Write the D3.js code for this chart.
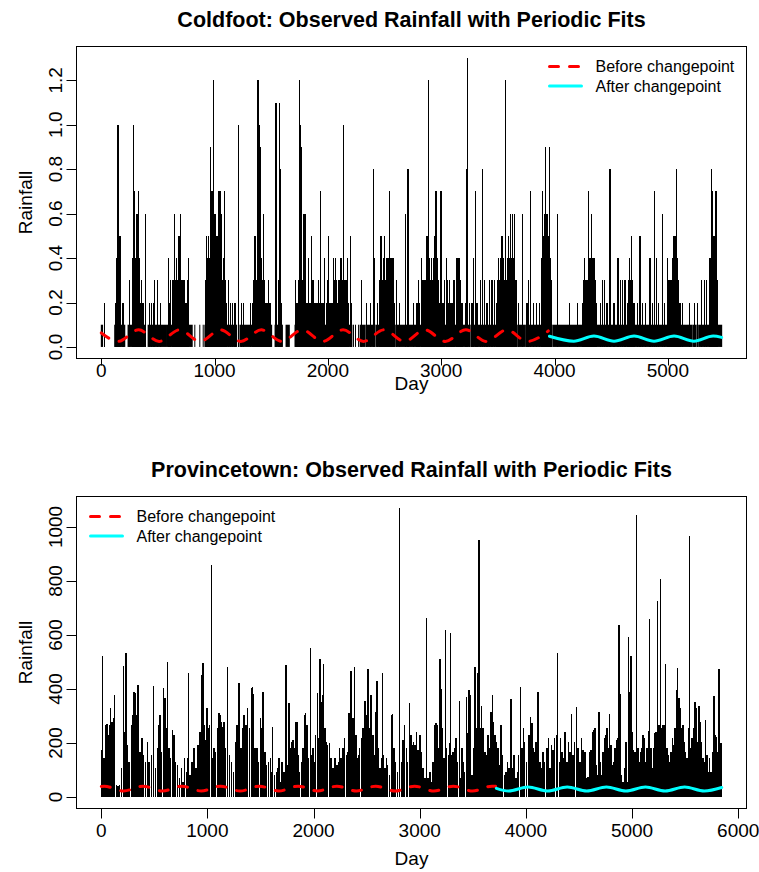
<!DOCTYPE html>
<html>
<head>
<meta charset="utf-8">
<script src="https://cdn.jsdelivr.net/npm/d3@7"></script>
<style>
  body { margin: 0; background: #fff; }
  svg { display: block; }
  text { font-family: "Liberation Sans", Arial, Helvetica, sans-serif; fill: #000; }
</style>
</head>
<body>
<script>
// ---- Coldfoot: daily rainfall (day, amount) for days above the 0.1 floor ----
const coldfootSpikes = [
  [31,.2],[125,.2],[133,.2],[140,.4],[149,1.0],[155,.3],[161,.5],[166,.3],[172,.5],[185,.2],[195,.2],[252,.3],[276,.4],[280,.3],[287,1.0],
  [292,.3],[296,.7],[303,.4],[311,.6],[316,.3],[320,.6],[326,.3],[332,.7],[336,.4],[340,.3],[345,.2],[355,.3],[360,.2],[370,.2],[393,.6],
  [429,.2],[444,.2],[458,.2],[473,.3],[497,.3],[526,.2],[591,.4],[600,.2],[612,.3],[626,.3],[640,.3],[650,.6],[657,.3],[665,.4],[672,.3],
  [680,.5],[688,.3],[694,.5],[700,.4],[703,.6],[713,.3],[723,.3],[730,.2],[738,.3],[748,.2],[758,.3],[768,.4],
  [920,.3],[930,.5],[940,.4],[950,.5],[957,.4],[965,.9],[970,.5],[977,.7],[983,.5],[989,1.2],[993,.4],[998,.6],[1003,.5],[1009,.6],[1015,.4],
  [1022,.5],[1033,.7],[1040,.4],[1048,.7],[1055,.3],[1062,.6],[1070,.3],[1078,.4],[1086,.7],[1095,.3],[1105,.2],[1121,.3],[1140,.2],[1160,.2],
  [1180,.2],[1210,1.0],[1239,.2],[1253,.2],
  [1320,.2],[1335,.2],[1345,.3],[1357,.5],[1365,.4],[1372,.3],[1378,.5],[1384,1.2],[1392,1.0],[1398,.4],[1407,.9],[1412,.4],[1419,.3],
  [1425,.3],[1431,.6],[1438,.3],[1445,.2],[1455,.2],[1465,.2],[1475,.3],[1485,.2],[1496,.2],[1543,1.1],[1550,.2],[1563,.2],[1568,.3],
  [1575,1.1],[1584,.8],[1590,.2],
  [1717,.3],[1722,.2],[1731,.2],[1740,.3],[1749,1.2],[1753,.4],[1758,1.0],[1762,.4],[1767,.9],[1775,.3],[1784,.6],[1790,.3],[1799,.6],
  [1806,.3],[1814,.2],[1822,.2],[1831,.4],[1840,.2],[1848,.2],[1858,.5],[1865,.3],[1873,.3],[1885,.2],[1895,.2],[1902,.2],[1910,.2],
  [1917,.3],[1928,.2],[1938,.7],[1948,.2],[1955,.2],[1965,.2],[1973,.4],[1985,.2],[1995,.3],[2008,.5],[2018,.2],[2029,.2],[2040,.2],
  [2050,.4],[2058,.3],[2064,.4],[2072,.3],[2085,.2],[2094,.3],[2100,.3],[2108,.4],[2115,.2],[2123,.4],[2132,.3],[2141,1.0],[2148,.3],
  [2156,.3],[2165,.3],[2176,.4],[2185,.2],[2197,.5],[2205,.2],[2300,.3],
  [2344,.2],[2374,.2],[2400,.8],[2409,.4],[2440,.2],[2456,.3],[2462,.3],[2468,.5],[2475,.3],[2486,.3],[2493,.4],[2503,.5],[2510,.3],
  [2515,.4],[2521,.3],[2525,.4],[2530,.4],[2537,.4],[2545,.7],[2550,.4],[2556,.4],[2563,.4],[2568,.3],[2574,.4],[2585,.2],[2609,.3],
  [2630,.2],[2683,.6],[2707,.8],[2757,.2],[2780,.2],[2790,.2],[2801,.3],[2812,.2],[2824,.4],[2830,.3],[2836,.3],[2845,.3],[2854,.3],
  [2862,.3],[2874,.5],[2880,.4],[2889,1.2],[2895,.4],[2904,.3],[2910,.3],[2918,.4],[2925,.3],[2932,.4],[2939,.5],[2946,.4],[2954,.7],
  [2960,.3],[2968,.4],[2975,.3],[2985,.2],[2998,.7],[3005,.3],[3013,.2],[3020,.2],[3030,.3],[3045,.4],[3055,.3],[3065,.2],[3075,.3],
  [3085,.2],[3095,.2],[3102,.2],[3110,.3],[3120,.3],[3133,.4],[3140,.3],[3148,.4],[3155,.3],[3163,.4],[3170,.3],[3178,.2],[3184,.2],
  [3213,.2],[3222,.8],[3234,1.3],[3251,.2],[3272,.2],[3284,.4],[3301,.7],[3316,.2],[3346,.3],[3366,.8],[3381,.3],[3405,.2],[3425,.3],
  [3449,.3],[3472,.3],[3485,.2],[3493,.2],[3500,.3],[3508,.4],[3515,.3],[3523,.4],[3531,.5],[3538,.4],[3543,.5],[3548,.4],[3555,.3],
  [3560,.3],[3564,1.2],[3570,.4],[3581,.3],[3588,.4],[3596,.5],[3603,.4],[3611,.6],[3618,.4],[3626,.6],[3633,.4],[3640,.3],[3646,.6],
  [3655,.3],[3664,.3],[3685,.2],[3714,.6],[3758,.2],[3773,.3],[3791,.7],[3817,.2],[3841,.2],[3870,.2],[3882,.3],[3888,.4],[3894,.7],
  [3900,.5],[3906,.3],[3912,.6],[3917,.9],[3923,.6],[3929,.6],[3935,.6],[3941,.5],[3947,.5],[3953,.6],[3959,.9],[3964,.4],[3970,.3],
  [4023,.6],[4135,.2],[4200,.2],[4245,.2],[4255,.3],[4265,.4],[4272,.3],[4283,.3],[4290,.3],[4301,.7],[4307,.4],[4313,.3],[4318,.4],
  [4324,.6],[4330,.4],[4339,.4],[4345,.3],[4354,.4],[4360,.3],[4366,.2],[4407,.2],[4425,.3],[4442,.3],[4463,.2],[4489,.8],[4525,.2],
  [4560,.4],[4584,.3],[4598,.3],[4622,.3],[4643,.2],[4650,.3],[4660,.4],[4668,.3],[4678,.5],[4690,.3],[4702,.2],[4731,.2],[4755,.5],
  [4775,.2],[4805,.2],[4843,.4],[4864,.2],[4881,.7],[4902,.4],[4917,.2],[4952,.6],[4967,.2],[4996,.4],[5003,.3],[5011,.3],[5020,.3],
  [5028,.3],[5040,.4],[5047,.4],[5055,.5],[5061,.4],[5067,.5],[5073,.4],[5079,.8],[5085,.4],[5091,.3],[5097,.2],[5108,.2],[5129,.2],
  [5194,.2],[5232,.2],[5261,.2],[5297,.3],[5320,.3],[5344,.3],[5365,.3],[5372,.4],[5382,.8],[5390,.5],[5397,.7],[5403,.5],[5409,.4],
  [5415,.5],[5424,.7],[5430,.4],[5438,.3]
];
// stretches of consecutive 0.1 days: [first day, last day, amount]
const coldfootLightRuns = [
  [1,12,.1],[119,208,.1],[237,391,.1],[414,576,.1],[585,803,.1],[826,826,.1],[870,870,.1],[900,900,.1],[915,1195,.1],
  [1224,1504,.1],[1534,1599,.1],[1631,1660,.1],[1710,2212,.1],[2226,2226,.1],[2244,2244,.1],[2271,2271,.1],
  [2285,2325,.1],[2335,2415,.1],[2425,2595,.1],[2605,2695,.1],[2705,2785,.1],[2795,3084,.1],[3094,3252,.1],[3262,3273,.1],
  [3283,3497,.1],[3507,3665,.1],[3675,3735,.1],[3745,3862,.1],[3872,3975,.1],[3985,4578,.1],[4588,4909,.1],[4919,5107,.1],
  [5117,5215,.1],[5225,5247,.1],[5257,5262,.1],[5272,5475,.1]
];
// seasonal fits (day, fitted value)
const coldfootBefore = [[1,.063],[150,.025],[330,.077],[511,.025],[691,.077],[872,.025],[1052,.077],[1232,.025],[1413,.077],[1593,.025],
  [1774,.077],[1954,.025],[2134,.077],[2315,.025],[2495,.077],[2676,.025],[2856,.077],[3036,.025],[3217,.077],[3397,.025],[3578,.077],
  [3758,.025],[3945,.072]];
const coldfootAfter = [[3955,.048],[4170,.026],[4348,.049],[4525,.026],[4702,.049],[4878,.026],[5055,.049],[5230,.026],[5400,.049],[5475,.043]];
const coldfootXTicks = [0,1000,2000,3000,4000,5000];
const coldfootYTicks = [0,0.2,0.4,0.6,0.8,1.0,1.2];

// ---- Provincetown: daily rainfall (day, amount) ----
const provincetownRain = [
  [2,174],[11,522],[27,143],[39,267],[52,269],[64,230],[77,267],[89,328],[102,279],[115,291],[127,378],[143,44],[159,40],[174,44],[190,106],
  [209,485],[221,242],[231,535],[246,193],[262,131],[284,267],[300,304],[309,388],[322,384],[334,304],[347,415],[366,168],[385,217],[400,156],
  [419,131],[435,205],[450,131],[472,156],[494,412],[510,106],[529,180],[541,267],[551,304],[567,168],[585,402],[598,365],[611,254],[623,501],
  [636,180],[654,143],[670,248],[686,230],[698,131],[717,119],[739,69],[755,106],[771,57],[786,143],[802,94],[811,143],[824,458],[837,81],
  [855,131],[874,180],[890,106],[912,193],[928,242],[943,452],[956,495],[968,267],[981,211],[994,328],[1006,254],[1019,267],[1037,859],
  [1050,143],[1063,180],[1078,168],[1094,254],[1107,310],[1119,304],[1132,279],[1144,260],[1157,279],[1169,180],[1188,483],[1207,156],
  [1226,131],[1245,94],[1264,205],[1279,267],[1295,421],[1314,180],[1332,254],[1345,304],[1364,267],[1376,328],[1395,254],[1414,402],
  [1424,409],[1436,380],[1449,180],[1468,180],[1480,131],[1499,291],[1512,254],[1524,390],[1540,168],[1556,119],[1574,131],[1593,143],
  [1606,94],[1615,260],[1631,81],[1650,94],[1662,106],[1675,143],[1691,57],[1703,131],[1719,94],[1738,489],[1753,119],[1766,347],[1778,180],
  [1794,205],[1807,211],[1819,180],[1832,279],[1844,279],[1857,156],[1869,94],[1885,131],[1901,180],[1913,304],[1926,310],[1938,267],
  [1954,143],[1970,551],[1982,156],[1995,180],[2008,131],[2020,230],[2036,384],[2048,217],[2058,510],[2070,353],[2083,378],[2095,493],
  [2108,254],[2121,205],[2133,193],[2152,199],[2165,143],[2183,106],[2202,143],[2221,119],[2234,131],[2246,180],[2259,143],[2278,180],
  [2293,217],[2309,156],[2325,168],[2334,310],[2350,468],[2362,254],[2372,291],[2384,480],[2397,230],[2409,143],[2422,156],[2434,180],
  [2453,217],[2466,254],[2482,357],[2497,304],[2513,473],[2529,254],[2541,378],[2560,230],[2576,156],[2585,316],[2598,431],[2610,180],
  [2623,106],[2639,143],[2648,458],[2660,156],[2673,106],[2686,143],[2698,119],[2717,81],[2733,304],[2745,307],[2758,180],[2773,131],
  [2792,94],[2811,1070],[2827,131],[2843,211],[2855,267],[2874,180],[2886,131],[2902,347],[2918,230],[2930,193],[2943,205],[2955,193],
  [2968,242],[2984,174],[2990,168],[3003,230],[3015,168],[3028,106],[3047,69],[3065,662],[3078,69],[3097,94],[3109,57],[3125,131],[3141,267],
  [3153,273],[3166,267],[3178,180],[3191,511],[3204,399],[3216,254],[3229,143],[3241,619],[3254,180],[3270,156],[3279,199],[3288,606],
  [3301,156],[3313,168],[3329,180],[3342,217],[3354,131],[3373,357],[3386,69],[3398,180],[3411,131],[3423,94],[3439,372],[3452,236],
  [3464,396],[3477,378],[3492,81],[3505,180],[3521,480],[3533,254],[3546,458],[3558,952],[3571,254],[3583,335],[3596,254],[3612,168],
  [3627,156],[3643,230],[3659,180],[3671,316],[3684,378],[3696,279],[3709,230],[3722,205],[3737,180],[3753,119],[3766,267],[3781,156],
  [3797,81],[3813,94],[3828,131],[3841,106],[3857,362],[3872,106],[3888,156],[3904,69],[3919,94],[3932,156],[3951,406],[3963,180],
  [3976,254],[3988,205],[4007,131],[4023,131],[4032,230],[4045,295],[4057,273],[4070,180],[4083,168],[4095,205],[4114,390],[4130,131],
  [4145,106],[4161,168],[4177,131],[4196,180],[4211,217],[4227,106],[4240,193],[4258,174],[4271,217],[4287,230],[4299,535],[4315,131],
  [4327,217],[4340,168],[4356,143],[4371,242],[4387,131],[4400,205],[4415,168],[4428,307],[4444,156],[4459,205],[4478,332],[4491,180],
  [4509,131],[4522,217],[4538,174],[4544,106],[4557,168],[4569,69],[4585,75],[4601,168],[4613,174],[4626,242],[4638,248],[4651,254],
  [4663,119],[4676,81],[4689,316],[4701,131],[4714,81],[4726,168],[4739,217],[4751,230],[4764,254],[4776,180],[4789,307],[4802,193],
  [4814,119],[4827,131],[4839,180],[4852,211],[4864,217],[4877,637],[4889,383],[4902,81],[4915,57],[4927,106],[4940,205],[4952,57],
  [4965,594],[4977,390],[4990,522],[5002,242],[5015,174],[5028,168],[5040,1044],[5053,180],[5065,131],[5078,168],[5090,180],[5103,230],
  [5115,217],[5128,131],[5141,180],[5153,246],[5166,658],[5178,180],[5191,106],[5203,180],[5216,236],[5228,242],[5241,726],[5254,267],
  [5266,807],[5279,254],[5291,267],[5304,267],[5316,491],[5329,180],[5342,156],[5354,131],[5367,168],[5379,217],[5392,193],[5404,254],
  [5417,396],[5429,477],[5442,365],[5454,328],[5467,254],[5480,267],[5492,205],[5505,168],[5517,143],[5530,254],[5542,968],[5555,180],
  [5567,217],[5580,254],[5593,351],[5605,328],[5618,205],[5630,338],[5643,279],[5655,205],[5668,143],[5680,131],[5693,285],[5706,156],
  [5718,94],[5731,143],[5743,94],[5756,168],[5771,374],[5784,230],[5797,223],[5806,168],[5816,473],[5825,217],[5840,200]
];
const provincetownBefore = [[1,39],[29,40],[211,22],[394,40],[576,22],[759,40],[942,22],[1124,40],[1307,22],[1490,40],[1672,22],[1855,40],
  [2037,22],[2220,40],[2403,22],[2585,40],[2768,22],[2951,40],[3133,22],[3316,40],[3498,22],[3681,40],[3715,39.5]];
const provincetownAfter = [[3722,32],[3836,22],[4020,37],[4205,22],[4389,37],[4573,22],[4758,37],[4942,22],[5126,37],[5311,22],
  [5495,37],[5680,22],[5844,35]];
const provincetownXTicks = [0,1000,2000,3000,4000,5000,6000];
const provincetownYTicks = [0,200,400,600,800,1000];

const legendLabels = ["Before changepoint", "After changepoint"];
const fitColors = ["#ff0000", "#00ffff"];

const W = 759, H = 872;
const svg = d3.select("body").append("svg").attr("width", W).attr("height", H);

function drawPanel(cfg) {
  const left = 76.5, right = 746.5, top = cfg.top, bottom = cfg.top + 312;
  const g = svg.append("g");
  const n = cfg.days;
  const x = d3.scaleLinear()
    .domain([1 - 0.04 * (n - 1), n + 0.04 * (n - 1)])
    .range([left, right]);
  const y = d3.scaleLinear()
    .domain([-0.04 * cfg.ymax, 1.04 * cfg.ymax])
    .range([bottom, top]);

  // rainfall bars
  if (cfg.runs) {
    g.append("g").selectAll("rect").data(cfg.runs).join("rect")
      .attr("x", d => x(d[0]) - 0.5)
      .attr("width", d => Math.max(1, x(d[1]) - x(d[0]) + 1))
      .attr("y", d => y(d[2]))
      .attr("height", d => y(0) - y(d[2]))
      .attr("fill", "#000");
  }
  g.append("g").attr("shape-rendering", "crispEdges")
    .selectAll("line").data(cfg.rain).join("line")
    .attr("x1", d => x(d[0])).attr("x2", d => x(d[0]))
    .attr("y1", y(0)).attr("y2", d => y(d[1]))
    .attr("stroke", "#000").attr("stroke-width", cfg.barWidth);

  // seasonal fits
  const line = d3.line().x(d => x(d[0])).y(d => y(d[1])).curve(d3.curveMonotoneX);
  g.append("path").datum(cfg.before).attr("d", line)
    .attr("fill", "none").attr("stroke", fitColors[0]).attr("stroke-width", 3)
    .attr("stroke-dasharray", "9,11").attr("stroke-linecap", "round");
  g.append("path").datum(cfg.after).attr("d", line)
    .attr("fill", "none").attr("stroke", fitColors[1]).attr("stroke-width", 3)
    .attr("stroke-linecap", "round");

  // frame
  g.append("rect").attr("x", left).attr("y", top).attr("width", right - left).attr("height", bottom - top)
    .attr("fill", "none").attr("stroke", "#000").attr("stroke-width", 1);

  // x axis
  const xa = g.append("g");
  xa.selectAll("line").data(cfg.xTicks).join("line")
    .attr("x1", d => Math.round(x(d)) + 0.5).attr("x2", d => Math.round(x(d)) + 0.5)
    .attr("y1", bottom).attr("y2", bottom + cfg.tickLen).attr("stroke", "#000");
  xa.selectAll("text").data(cfg.xTicks).join("text")
    .attr("x", d => x(d)).attr("y", bottom + cfg.xLabelDy)
    .attr("text-anchor", "middle").attr("font-size", 19).text(d => d);

  // y axis
  const ya = g.append("g");
  ya.selectAll("line").data(cfg.yTicks).join("line")
    .attr("x1", left).attr("x2", left - 10)
    .attr("y1", d => Math.round(y(d)) + 0.5).attr("y2", d => Math.round(y(d)) + 0.5).attr("stroke", "#000");
  ya.selectAll("text").data(cfg.yTicks).join("text")
    .attr("transform", d => `translate(${left - 15},${y(d)}) rotate(-90)`)
    .attr("text-anchor", "middle").attr("font-size", 19).text(cfg.yFormat);

  // titles
  g.append("text").attr("x", (left + right) / 2).attr("y", top - 19.5)
    .attr("text-anchor", "middle").attr("font-size", 21.5).attr("font-weight", "bold").text(cfg.title);
  g.append("text").attr("x", (left + right) / 2).attr("y", bottom + cfg.dayDy)
    .attr("text-anchor", "middle").attr("font-size", 19).text("Day");
  g.append("text").attr("transform", `translate(31.5,${(top + bottom) / 2}) rotate(-90)`)
    .attr("text-anchor", "middle").attr("font-size", 19).text("Rainfall");

  // legend
  const lg = g.append("g").attr("transform", `translate(${cfg.legendX},${cfg.legendY})`);
  legendLabels.forEach((lab, i) => {
    const ly = i * 19.5;
    lg.append("line").attr("x1", 0).attr("x2", 32).attr("y1", ly).attr("y2", ly)
      .attr("stroke", fitColors[i]).attr("stroke-width", 3)
      .attr("stroke-dasharray", i === 0 ? "9,11" : null).attr("stroke-linecap", "round");
    lg.append("text").attr("x", 46).attr("y", ly + 5.5).attr("font-size", 16).text(lab);
  });
}

drawPanel({
  top: 46.5, days: 5475, ymax: 1.3, rain: coldfootSpikes, runs: coldfootLightRuns, barWidth: 1.2,
  before: coldfootBefore, after: coldfootAfter, xTicks: coldfootXTicks, yTicks: coldfootYTicks,
  yFormat: d3.format(".1f"), title: "Coldfoot: Observed Rainfall with Periodic Fits",
  legendX: 549.5, legendY: 66.5, tickLen: 7, xLabelDy: 18.5, dayDy: 31
});
drawPanel({
  top: 496.5, days: 5844, ymax: 1070, rain: provincetownRain, runs: null, barWidth: 1.6,
  before: provincetownBefore, after: provincetownAfter, xTicks: provincetownXTicks, yTicks: provincetownYTicks,
  yFormat: d3.format("d"), title: "Provincetown: Observed Rainfall with Periodic Fits",
  legendX: 90.5, legendY: 516.5, tickLen: 10, xLabelDy: 28, dayDy: 56
});
</script>
</body>
</html>
